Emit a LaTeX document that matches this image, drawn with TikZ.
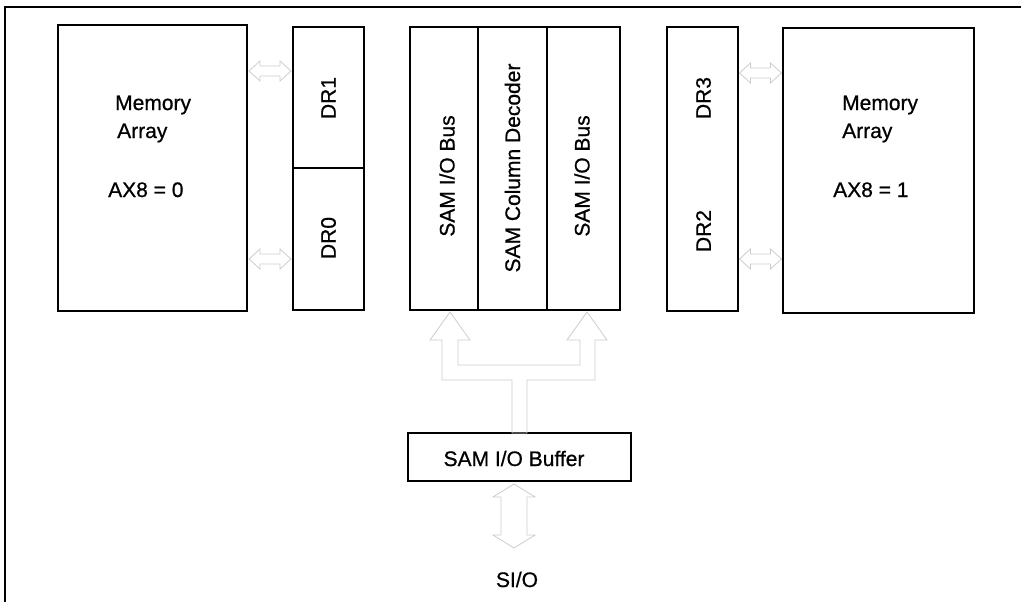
\documentclass[tikz,border=0pt]{standalone}
\usepackage{fontspec}
\setmainfont{Liberation Sans}
\newfontfamily\lblfont[FakeBold=0.7]{Liberation Sans}
\begin{document}
\begin{tikzpicture}[x=1pt,y=-1pt,
  box/.style={draw=black, line width=1.2pt, inner sep=0pt},
  lbl/.style={font=\lblfont\fontsize{21}{25}\selectfont, inner sep=0pt},
  faint/.style={draw=black!20, line width=0.8pt, line join=miter},
  pics/hdarr/.style={code={\draw[faint] (-21,0) -- (-10,-10) -- (-10,-5) -- (10,-5) -- (10,-10) -- (21,0) -- (10,10) -- (10,5) -- (-10,5) -- (-10,10) -- cycle;}},
]
\useasboundingbox (0,0) rectangle (1024,602);
\draw[line width=1.3pt] (5,602) -- (5,7) -- (1021,7);

% boxes
\node[box, minimum width=189pt, minimum height=286pt] (ma0) at (152.5,168) {};
\node[box, minimum width=71pt, minimum height=141pt] (dr1) at (328.5,97.5) {};
\node[box, minimum width=71pt, minimum height=142pt] (dr0) at (328.5,239) {};
\node[box, minimum width=68pt, minimum height=283pt] (bus1) at (444,168.5) {};
\node[box, minimum width=69pt, minimum height=283pt] (dec) at (512.5,168.5) {};
\node[box, minimum width=73pt, minimum height=283pt] (bus2) at (583.5,168.5) {};
\node[box, minimum width=71pt, minimum height=284pt] (dr32) at (702.5,169) {};
\node[box, minimum width=191pt, minimum height=285pt] (ma1) at (878.5,170.5) {};
\node[box, minimum width=223pt, minimum height=48pt] (buf) at (519.5,457) {};

% labels
\node[lbl, anchor=base west] (m0a) at (115,110) {Memory};
\node[lbl, anchor=base west] (m0b) at (117,138) {Array};
\node[lbl, anchor=base west] (m0c) at (108,197) {AX8 = 0};
\node[lbl, anchor=base west] (m1a) at (842,110) {Memory};
\node[lbl, anchor=base west] (m1b) at (842,138) {Array};
\node[lbl, anchor=base west] (m1c) at (833,197) {AX8 = 1};
\node[lbl, rotate=90] (l1) at (328.5,98) {DR1};
\node[lbl, rotate=90] (l0) at (328.5,238) {DR0};
\node[lbl, rotate=90] (l3) at (703.5,98) {DR3};
\node[lbl, rotate=90] (l2) at (703.5,231) {DR2};
\node[lbl, rotate=90] (lb1) at (447,176) {SAM I/O Bus};
\node[lbl, rotate=90] (ld) at (512.5,168) {SAM Column Decoder};
\node[lbl, rotate=90] (lb2) at (582,176) {SAM I/O Bus};
\node[lbl, anchor=base] (lbuf) at (514,466) {SAM I/O Buffer};
\node[lbl, anchor=base] (sio) at (517,587) {SI/O};

% faint block arrows
\pic at (270,71) {hdarr};
\pic at (270,259) {hdarr};
\pic at (760.5,73) {hdarr};
\pic at (760.5,259) {hdarr};
\draw[faint] (442,380) -- (512,380) -- (512,433) -- (527,433) -- (527,380) -- (595,380)
  -- (595,340) -- (607,340) -- (587,312) -- (567,340) -- (580,340) -- (580,365)
  -- (458,365) -- (458,340) -- (470,340) -- (450,312) -- (430,340) -- (442,340) -- cycle;
\draw[faint] (514,484) -- (535,497) -- (527,497) -- (527,535) -- (535,535) -- (514,548)
  -- (493,535) -- (501,535) -- (501,497) -- (493,497) -- cycle;
\end{tikzpicture}
\end{document}
